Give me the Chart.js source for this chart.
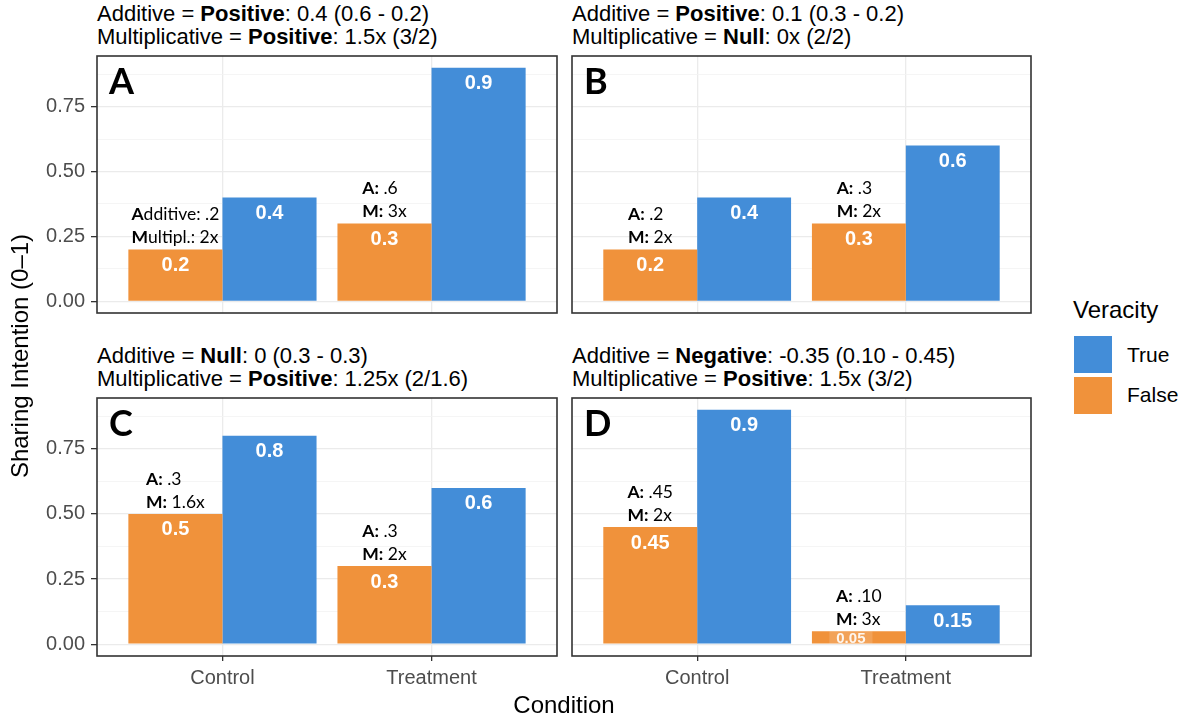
<!DOCTYPE html>
<html><head><meta charset="utf-8">
<script src="https://cdn.jsdelivr.net/npm/chart.js@4.4.0/dist/chart.umd.min.js"></script>
<style>
body{margin:0;background:#fff;}
#wrap{position:relative;width:1185px;height:721px;overflow:hidden;background:#fff;font-family:"Liberation Sans",Arial,sans-serif;color:#000;}
canvas{position:absolute;}
.title{position:absolute;font-size:22px;line-height:23px;white-space:nowrap;}
.title b{font-weight:bold;}
.lab{position:absolute;white-space:nowrap;}
.key{position:absolute;width:38px;height:37px;}
</style></head>
<body>
<div id="wrap">
  <canvas id="cA" width="561" height="265" style="left:0px;top:52px"></canvas>
  <canvas id="cB" width="467" height="265" style="left:568px;top:52px"></canvas>
  <canvas id="cC" width="561" height="302" style="left:0px;top:394px"></canvas>
  <canvas id="cD" width="467" height="302" style="left:568px;top:394px"></canvas>
  <div class="title" id="tA" style="left:97px;top:2px"></div>
  <div class="title" id="tB" style="left:572px;top:2px"></div>
  <div class="title" id="tC" style="left:97px;top:344px"></div>
  <div class="title" id="tD" style="left:572px;top:344px"></div>
  <div class="lab" style="left:-180px;top:343px;width:400px;text-align:center;font-size:24px;line-height:26px;transform:rotate(-90deg);">Sharing Intention (0–1)</div>
  <div class="lab" style="left:364px;top:692px;width:400px;text-align:center;font-size:24px;line-height:26px;">Condition</div>
  <div class="lab" style="left:1073px;top:297px;font-size:24px;line-height:26px;">Veracity</div>
  <div class="key" style="left:1074px;top:336px;background:#438DD8"></div>
  <div class="key" style="left:1074px;top:377px;background:#F0923B"></div>
  <div class="lab" style="left:1127px;top:343px;font-size:21px;line-height:24px;">True</div>
  <div class="lab" style="left:1127px;top:383px;font-size:21px;line-height:24px;">False</div>
</div>
<script>
// ---- data ----
const categories = ['Control', 'Treatment'];
const seriesNames = ['False', 'True'];
const falseA = [0.2, 0.3];  const trueA = [0.4, 0.9];
const falseB = [0.2, 0.3];  const trueB = [0.4, 0.6];
const falseC = [0.5, 0.3];  const trueC = [0.8, 0.6];
const falseD = [0.45, 0.05]; const trueD = [0.9, 0.15];
const yMajorTicks = [0, 0.25, 0.5, 0.75];
const yMinorTicks = [0.125, 0.375, 0.625, 0.875];
// annotation lines above the False bars: [bold1, rest1, bold2, rest2]
const annA = [['A', 'dditive: .2', 'M', 'ultipl.: 2x'], ['A:', ' .6', 'M:', ' 3x']];
const annB = [['A:', ' .2', 'M:', ' 2x'], ['A:', ' .3', 'M:', ' 2x']];
const annC = [['A:', ' .3', 'M:', ' 1.6x'], ['A:', ' .3', 'M:', ' 2x']];
const annD = [['A:', ' .45', 'M:', ' 2x'], ['A:', ' .10', 'M:', ' 3x']];
// panel titles: [plain, bold, plain]
const titleA = [['Additive = ', 'Positive', ': 0.4 (0.6 - 0.2)'], ['Multiplicative = ', 'Positive', ': 1.5x (3/2)']];
const titleB = [['Additive = ', 'Positive', ': 0.1 (0.3 - 0.2)'], ['Multiplicative = ', 'Null', ': 0x (2/2)']];
const titleC = [['Additive = ', 'Null', ': 0 (0.3 - 0.3)'], ['Multiplicative = ', 'Positive', ': 1.25x (2/1.6)']];
const titleD = [['Additive = ', 'Negative', ': -0.35 (0.10 - 0.45)'], ['Multiplicative = ', 'Positive', ': 1.5x (3/2)']];

const BLUE = '#438DD8', ORANGE = '#F0923B';

function setTitle(id, t) {
  document.getElementById(id).innerHTML = t.map(l => l[0] + '<b>' + l[1] + '</b>' + l[2]).join('<br>');
}
setTitle('tA', titleA); setTitle('tB', titleB); setTitle('tC', titleC); setTitle('tD', titleD);

function makePanel(canvasId, letter, fVals, tVals, ann, showY, showX) {
  const annFont = '17.5px Lato, "Open Sans", sans-serif';
  const annBold = 'bold 17.5px Lato, "Open Sans", sans-serif';
  const panelPlugin = {
    id: 'panelDeco',
    afterDatasetsDraw(chart) {
      const ctx = chart.ctx;
      const ca = chart.chartArea;
      ctx.save();
      // value labels
      chart.data.datasets.forEach((ds, di) => {
        const meta = chart.getDatasetMeta(di);
        meta.data.forEach((bar, j) => {
          const v = ds.data[j].y;
          const h = bar.base - bar.y;
          ctx.textAlign = 'center';
          ctx.textBaseline = 'middle';
          if (h < 30) {
            ctx.font = 'bold 15px "Liberation Sans", Arial, sans-serif';
            const w = ctx.measureText(String(v)).width + 14;
            const cx = bar.x - 8;
            ctx.fillStyle = 'rgba(255,255,255,0.15)';
            ctx.fillRect(cx - w / 2, bar.y, w, h);
            ctx.fillStyle = 'rgba(255,255,255,0.9)';
            ctx.fillText(String(v), cx, (bar.y + bar.base) / 2 + 1);
          } else {
            ctx.font = 'bold 20px "Liberation Sans", Arial, sans-serif';
            ctx.fillStyle = '#fff';
            ctx.fillText(String(v), bar.x, bar.y + 16);
          }
        });
      });
      // annotations above False bars
      const meta0 = chart.getDatasetMeta(0);
      meta0.data.forEach((bar, j) => {
        const a = ann[j];
        ctx.textBaseline = 'middle';
        ctx.textAlign = 'left';
        ctx.font = annBold; const b1 = ctx.measureText(a[0]).width; const b2 = ctx.measureText(a[2]).width;
        ctx.font = annFont; const r1 = ctx.measureText(a[1]).width; const r2 = ctx.measureText(a[3]).width;
        const w = Math.max(b1 + r1, b2 + r2);
        const x0 = bar.x - w / 2;
        const y1 = bar.y - 35, y2 = bar.y - 12;
        ctx.fillStyle = '#000';
        ctx.font = annBold; ctx.fillText(a[0], x0, y1); ctx.fillText(a[2], x0, y2);
        ctx.font = annFont; ctx.fillText(a[1], x0 + b1, y1); ctx.fillText(a[3], x0 + b2, y2);
      });
      // panel letter
      ctx.font = 'bold 36px Lato, "Open Sans", sans-serif';
      ctx.textAlign = 'left';
      ctx.textBaseline = 'alphabetic';
      ctx.fillStyle = '#000';
      ctx.fillText(letter, ca.left + 12, ca.top + 38);
      ctx.restore();
    },
    afterDraw(chart) {
      const ctx = chart.ctx, ca = chart.chartArea;
      ctx.save();
      ctx.strokeStyle = '#333333';
      ctx.lineWidth = 1.6;
      ctx.strokeRect(ca.left, ca.top, ca.right - ca.left, ca.bottom - ca.top);
      ctx.restore();
    }
  };
  const toPts = vals => vals.map((v, i) => ({ x: i, y: v }));
  const tickFont = { family: '"Liberation Sans", Arial, sans-serif', size: 20 };
  return new Chart(document.getElementById(canvasId), {
    type: 'bar',
    data: {
      datasets: [
        { label: seriesNames[0], data: toPts(fVals), backgroundColor: ORANGE, borderWidth: 0 },
        { label: seriesNames[1], data: toPts(tVals), backgroundColor: BLUE, borderWidth: 0 }
      ]
    },
    options: {
      responsive: false,
      maintainAspectRatio: false,
      animation: false,
      events: [],
      categoryPercentage: 0.9,
      barPercentage: 1.0,
      layout: { padding: { top: 4, right: 4, bottom: showX ? 0 : 4, left: showY ? 0 : 4 } },
      plugins: { legend: { display: false }, tooltip: { enabled: false }, title: { display: false } },
      scales: {
        x: {
          type: 'linear',
          offset: false,
          min: -0.6, max: 1.6,
          afterBuildTicks: s => { s.ticks = categories.map((c, i) => ({ value: i })); },
          afterFit: s => { s.height = showX ? 40 : 0; s.paddingLeft = 0; s.paddingRight = 0; },
          border: { display: false },
          grid: { offset: false, color: '#EBEBEB', lineWidth: 1.3, drawTicks: showX, tickLength: 5, tickColor: '#333333' },
          ticks: {
            display: showX, padding: 5, color: '#4D4D4D', font: tickFont, maxRotation: 0,
            callback: v => categories[v]
          }
        },
        y: {
          type: 'linear',
          min: -0.045, max: 0.945,
          afterBuildTicks: s => {
            s.ticks = yMajorTicks.concat(yMinorTicks).sort((a, b) => a - b).map(v => ({ value: v }));
          },
          afterFit: s => { s.width = showY ? 97 : 0; s.paddingTop = 0; s.paddingBottom = 0; },
          border: { display: false },
          grid: {
            color: c => yMajorTicks.includes(c.tick.value) ? '#EBEBEB' : '#F3F3F3',
            lineWidth: c => yMajorTicks.includes(c.tick.value) ? 1.3 : 0.8,
            drawTicks: showY, tickLength: 6,
            tickColor: c => yMajorTicks.includes(c.tick.value) ? '#333333' : 'rgba(0,0,0,0)'
          },
          ticks: {
            display: showY, padding: 6, color: '#4D4D4D', font: tickFont,
            callback: v => yMajorTicks.includes(v) ? v.toFixed(2) : ''
          }
        }
      }
    },
    plugins: [panelPlugin]
  });
}

makePanel('cA', 'A', falseA, trueA, annA, true, false);
makePanel('cB', 'B', falseB, trueB, annB, false, false);
makePanel('cC', 'C', falseC, trueC, annC, true, true);
makePanel('cD', 'D', falseD, trueD, annD, false, true);
</script>
</body></html>
